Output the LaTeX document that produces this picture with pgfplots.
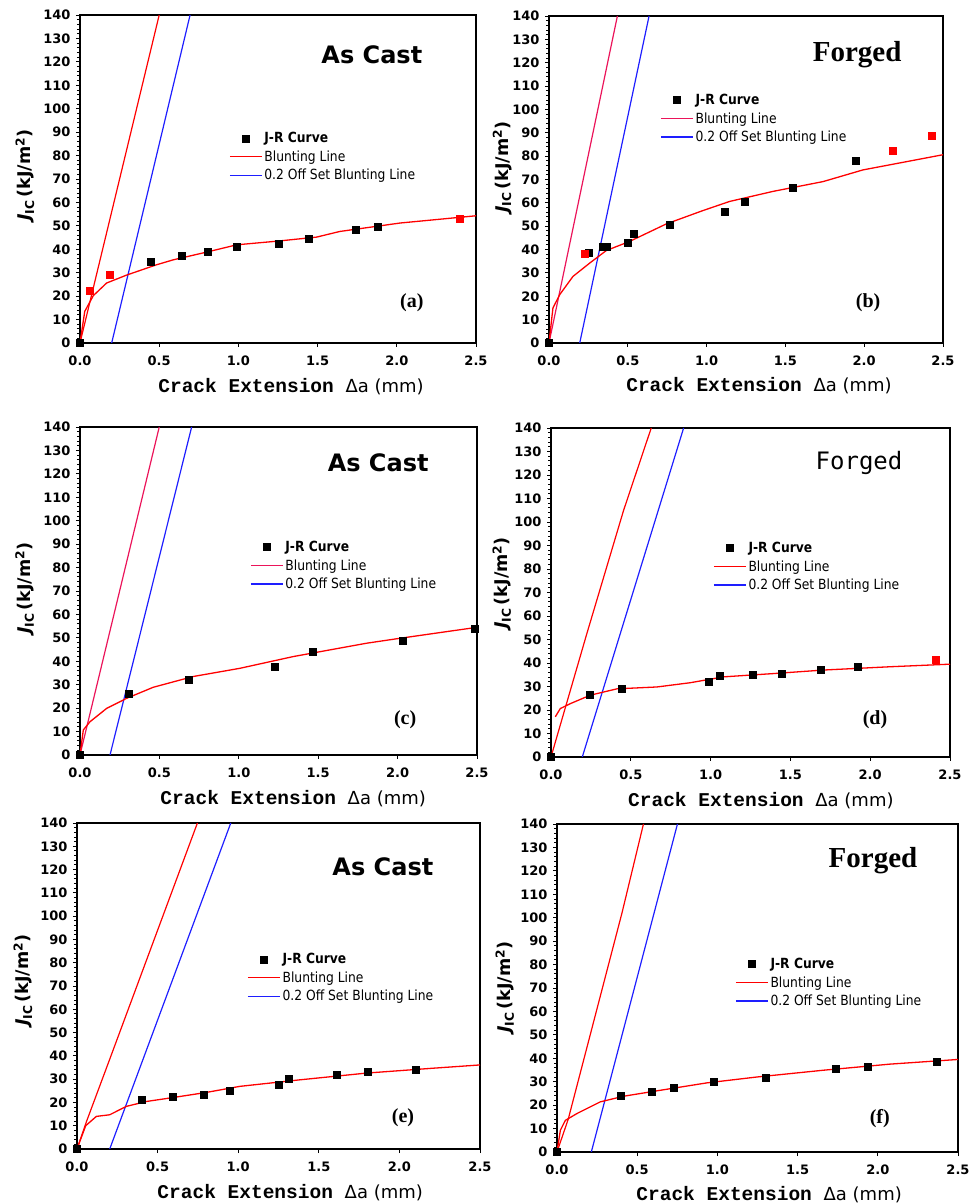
\documentclass[border=0pt]{standalone}
\usepackage{fontspec}
\usepackage{pgfplots}
\pgfplotsset{compat=1.18}
\setmainfont{DejaVu Sans}
\newfontfamily\legfont{DejaVu Sans}[FakeStretch=0.88]
\newfontfamily\monofont{Liberation Mono}
\newfontfamily\serifb{Liberation Serif}
\newfontfamily\dvmono{DejaVu Sans Mono}
\definecolor{jred}{RGB}{255,0,0}
\definecolor{jcrim}{RGB}{235,20,90}
\definecolor{jblue}{RGB}{30,30,255}
\newcommand{\xlab}{{\monofont\bfseries\fontsize{19.5}{21}\selectfont Crack Extension }{\fontsize{18}{20}\selectfont Δa (mm)}}
\newcommand{\ylab}{\fontsize{17.5}{20}\selectfont\bfseries{\itshape J}\textsubscript{IC}\,(kJ/m\textsuperscript{2})}
\pgfplotsset{
 jr/.style={
  scale only axis, xmin=0, xmax=2.5, ymin=0, ymax=140,
  xtick={0,0.5,1,1.5,2,2.5}, ytick={0,10,...,140},
  minor y tick num=4,
  tick align=outside, tick pos=left,
  major tick length=4pt, minor tick length=3pt,
  every tick/.style={black, line width=0.9pt},
  axis line style={line width=1.1pt},
  /pgf/number format/assume math mode=true,
  ticklabel style={font=\bfseries\fontsize{13}{15}\selectfont},
  xticklabel style={/pgf/number format/.cd, fixed, fixed zerofill, precision=1, /tikz/.cd, yshift=-5pt},
  yticklabel style={xshift=-2pt},
  xlabel={\xlab}, ylabel={\ylab},
  legend cell align=left,
  legend style={draw=none, fill=none, inner sep=0pt, row sep=2.5pt,
    font=\legfont\fontsize{14}{16}\selectfont,
    /tikz/every even column/.append style={column sep=6pt}},
 },
 lgline/.style={legend image code/.code={\draw[##1, line width=1.3pt] (0pt,0pt) -- (32pt,0pt);}},
 lgmark/.style={legend image code/.code={\draw[##1] plot coordinates {(16pt,0pt)};}},
 fitc/.style={jred, line width=1.3pt, no marks, forget plot},
 blunt/.style={line width=1.2pt, no marks, forget plot},
 pts/.style={only marks, mark=square*, mark size=3.5pt, black, forget plot},
 rpts/.style={only marks, mark=square*, mark size=3.5pt, jred, forget plot},
}
\newcommand{\jrlegend}[1]{%
 \addlegendimage{only marks, mark=square*, mark size=3.5pt, black, lgmark}
 \addlegendentry{\bfseries J-R Curve}
 \addlegendimage{#1, lgline}
 \addlegendentry{Blunting Line}
 \addlegendimage{jblue, lgline}
 \addlegendentry{0.2 Off Set Blunting Line}}
\newcommand{\ascast}{\bfseries\fontsize{24}{28}\selectfont}
\begin{document}
\begin{tikzpicture}
\useasboundingbox (0,0) rectangle (973pt,1203pt);
% (a)
\begin{axis}[jr, at={(80pt,860pt)}, anchor=south west, width=396pt, height=328pt,
  xlabel style={at={(axis description cs:0.533,-0.134)}, anchor=center},
  ylabel style={at={(axis description cs:-0.139,0.512)}, anchor=center},
  legend style={at={(0.376,0.649)}, anchor=north west}]
\jrlegend{jred}
\addplot[blunt, jred] coordinates {(0,0) (0.5,140)};
\addplot[blunt, jblue] coordinates {(0.2,0) (0.695,140)};
\addplot[fitc] coordinates {(0,0) (0.03,13.5) (0.084,20.2) (0.168,25.6) (0.295,29) (0.484,33.4) (0.589,35.5) (0.8,38.8) (0.989,41.9) (1.25,43.5) (1.494,45.2) (1.64,47.6) (2.02,51.2) (2.5,54.3)};
\addplot[pts] coordinates {(0,0) (0.448,34.7) (0.642,37.1) (0.804,38.9) (0.989,40.9) (1.254,42.2) (1.446,44.5) (1.742,48.3) (1.881,49.5)};
\addplot[rpts] coordinates {(0.059,22.5) (0.185,29) (2.395,52.9)};
\node[font=\ascast] at (rel axis cs:0.737,0.878) {As Cast};
\node[font=\serifb\bfseries\fontsize{20}{24}\selectfont] at (rel axis cs:0.838,0.122) {(a)};
\end{axis}
% (b)
\begin{axis}[jr, at={(549pt,860pt)}, anchor=south west, width=394pt, height=327pt,
  xlabel style={at={(axis description cs:0.533,-0.131)}, anchor=center},
  ylabel style={at={(axis description cs:-0.119,0.538)}, anchor=center},
  legend style={at={(0.282,0.768)}, anchor=north west}]
\jrlegend{jcrim}
\addplot[blunt, jcrim] coordinates {(0,0) (0.434,140)};
\addplot[blunt, jblue] coordinates {(0.195,0) (0.635,140)};
\addplot[fitc] coordinates {(0,0) (0.025,15) (0.068,20.7) (0.152,28.5) (0.258,34.2) (0.364,39.6) (0.512,43.5) (0.745,51) (0.977,56.7) (1.146,60.6) (1.421,64.9) (1.739,69.1) (1.992,74.1) (2.5,80.6)};
\addplot[pts] coordinates {(0,0) (0.252,38.8) (0.343,41.1) (0.364,41.1) (0.501,43.1) (0.537,46.8) (0.766,50.5) (1.117,56.3) (1.242,60.7) (1.548,66.6) (1.946,78.0)};
\addplot[rpts] coordinates {(0.226,38.1) (2.183,82.4) (2.428,88.7)};
\node[font=\serifb\bfseries\fontsize{29}{33}\selectfont] at (rel axis cs:0.782,0.881) {Forged};
\node[font=\serifb\bfseries\fontsize{20}{24}\selectfont] at (rel axis cs:0.810,0.122) {(b)};
\end{axis}
% (c)
\begin{axis}[jr, at={(80pt,448pt)}, anchor=south west, width=397pt, height=328pt,
  xlabel style={at={(axis description cs:0.537,-0.134)}, anchor=center},
  ylabel style={at={(axis description cs:-0.139,0.509)}, anchor=center},
  legend style={at={(0.428,0.659)}, anchor=north west}]
\jrlegend{jcrim}
\addplot[blunt, jcrim] coordinates {(0,0) (0.499,140)};
\addplot[blunt, jblue] coordinates {(0.189,0) (0.703,140)};
\addplot[fitc] coordinates {(0,0) (0.021,10.7) (0.063,14.2) (0.168,19.9) (0.294,24.2) (0.461,28.9) (0.713,33.5) (1.007,37) (1.342,42) (1.804,47.7) (2.013,49.8) (2.5,54.5)};
\addplot[pts] coordinates {(0,0) (0.304,26.1) (0.682,32.3) (1.227,37.7) (1.468,43.9) (2.030,48.9) (2.485,54.0)};
\node[font=\ascast] at (rel axis cs:0.751,0.890) {As Cast};
\node[font=\serifb\bfseries\fontsize{20}{24}\selectfont] at (rel axis cs:0.819,0.107) {(c)};
\end{axis}
% (d)
\begin{axis}[jr, at={(551pt,446pt)}, anchor=south west, width=399pt, height=329pt,
  xlabel style={at={(axis description cs:0.526,-0.134)}, anchor=center},
  ylabel style={at={(axis description cs:-0.123,0.529)}, anchor=center},
  legend style={at={(0.406,0.660)}, anchor=north west}]
\jrlegend{jred}
\addplot[blunt, jred] coordinates {(0,0) (0.225,52.6) (0.455,105) (0.628,140)};
\addplot[blunt, jblue] coordinates {(0.196,0) (0.831,140)};
\addplot[fitc] coordinates {(0.027,17.1) (0.058,20.6) (0.121,22.7) (0.246,26.3) (0.413,29) (0.664,29.8) (0.872,31.6) (1.081,34.1) (1.394,35.5) (1.707,37) (2.124,38.4) (2.5,39.5)};
\addplot[pts] coordinates {(0,0) (0.240,26.4) (0.444,29.0) (0.985,32.0) (1.056,34.5) (1.265,35.0) (1.444,35.5) (1.690,37.1) (1.920,38.4)};
\addplot[rpts] coordinates {(2.408,41.2)};
\node[font=\dvmono\fontsize{24}{28}\selectfont] at (rel axis cs:0.772,0.894) {Forged};
\node[font=\serifb\bfseries\fontsize{20}{24}\selectfont] at (rel axis cs:0.812,0.112) {(d)};
\end{axis}
% (e)
\begin{axis}[jr, at={(77pt,54pt)}, anchor=south west, width=403pt, height=326pt,
  xlabel style={at={(axis description cs:0.529,-0.135)}, anchor=center},
  ylabel style={at={(axis description cs:-0.134,0.518)}, anchor=center},
  legend style={at={(0.422,0.607)}, anchor=north west}]
\jrlegend{jred}
\addplot[blunt, jred] coordinates {(0,0) (0.06,12) (0.2,38) (0.747,140)};
\addplot[blunt, jblue] coordinates {(0.203,0) (0.954,140)};
\addplot[fitc] coordinates {(0,0) (0.054,10) (0.12,14) (0.203,14.7) (0.306,18.3) (0.43,20.4) (0.596,22.1) (0.803,24.3) (1.01,26.9) (1.382,29.7) (1.796,32.6) (2.21,34.7) (2.5,36.1)};
\addplot[pts] coordinates {(0,0) (0.399,21.1) (0.592,22.6) (0.788,23.4) (0.948,24.9) (1.250,27.6) (1.312,30.0) (1.610,31.7) (1.805,33.3) (2.099,34.0)};
\node[font=\ascast] at (rel axis cs:0.759,0.865) {As Cast};
\node[font=\serifb\bfseries\fontsize{20}{24}\selectfont] at (rel axis cs:0.809,0.095) {(e)};
\end{axis}
% (f)
\begin{axis}[jr, at={(557pt,51pt)}, anchor=south west, width=401pt, height=328pt,
  xlabel style={at={(axis description cs:0.529,-0.13)}, anchor=center},
  ylabel style={at={(axis description cs:-0.13,0.503)}, anchor=center},
  legend style={at={(0.444,0.598)}, anchor=north west}]
\jrlegend{jred}
\addplot[blunt, jred] coordinates {(0,0) (0.07,14) (0.405,102) (0.539,140)};
\addplot[blunt, jblue] coordinates {(0.214,0) (0.751,140)};
\addplot[fitc] coordinates {(0,0) (0.021,9.3) (0.052,13.5) (0.124,16.4) (0.27,21.4) (0.415,23.8) (0.622,26.1) (0.934,29.5) (1.245,32) (1.66,34.9) (2.075,37.5) (2.5,39.5)};
\addplot[pts] coordinates {(0,0) (0.400,24.1) (0.593,25.9) (0.730,27.5) (0.979,29.9) (1.299,31.8) (1.737,35.5) (1.936,36.6) (2.365,38.5)};
\node[font=\serifb\bfseries\fontsize{29}{33}\selectfont] at (rel axis cs:0.788,0.887) {Forged};
\node[font=\serifb\bfseries\fontsize{20}{24}\selectfont] at (rel axis cs:0.805,0.101) {(f)};
\end{axis}
\end{tikzpicture}
\end{document}
